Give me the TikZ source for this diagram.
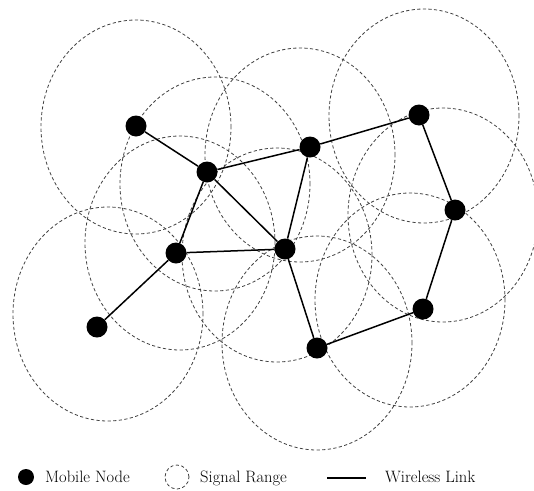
\documentclass[tikz,border=0pt]{standalone}
\begin{document}
\begin{tikzpicture}[x=1pt,y=-1pt,
  sigrange/.style={draw=black!75, line width=0.8pt, dash pattern=on 3.2pt off 2.4pt},
  mnode/.style={circle, fill=black, inner sep=0pt, minimum size=21pt},
  link/.style={draw=black, line width=1.5pt},
  legtext/.style={anchor=base west, inner sep=0pt, font=\fontsize{16.5}{19}\selectfont}]
\useasboundingbox (0,0) rectangle (534,490);

% signal ranges
\foreach \cx/\cy in {136/127, 215/184, 300/155, 424/116, 443/215,
                     180/243, 277/255, 108/314, 410/300, 317/343}
  \draw[sigrange] (\cx,\cy) ellipse [x radius=95pt, y radius=107pt];

% mobile nodes
\node[mnode] (A) at (136,126) {};
\node[mnode] (B) at (207,172) {};
\node[mnode] (C) at (310,147) {};
\node[mnode] (D) at (419,115) {};
\node[mnode] (E) at (455,210) {};
\node[mnode] (F) at (176,253) {};
\node[mnode] (G) at (285,249) {};
\node[mnode] (H) at (97,327) {};
\node[mnode] (I) at (423,309) {};
\node[mnode] (J) at (317,348) {};

% wireless links
\draw[link] (A) -- (B);
\draw[link] (B) -- (C);
\draw[link] (C) -- (D);
\draw[link] (D) -- (E);
\draw[link] (E) -- (I);
\draw[link] (I) -- (J);
\draw[link] (J) -- (G);
\draw[link] (G) -- (C);
\draw[link] (B) -- (G);
\draw[link] (B) -- (F);
\draw[link] (F) -- (G);
\draw[link] (F) -- (H);

% legend
\node[circle, fill=black, inner sep=0pt, minimum size=16pt] (legnode) at (26,477) {};
\node[legtext] (legnodetxt) at (45,482) {Mobile Node};
\node[sigrange, circle, inner sep=0pt, minimum size=24pt] (legrange) at (177,477) {};
\node[legtext] (legrangetxt) at (200,482) {Signal Range};
\coordinate (legl1) at (327,478);
\coordinate (legl2) at (366,478);
\draw[link] (legl1) -- (legl2);
\node[legtext] (leglinktxt) at (385,482) {Wireless Link};
\end{tikzpicture}
\end{document}
